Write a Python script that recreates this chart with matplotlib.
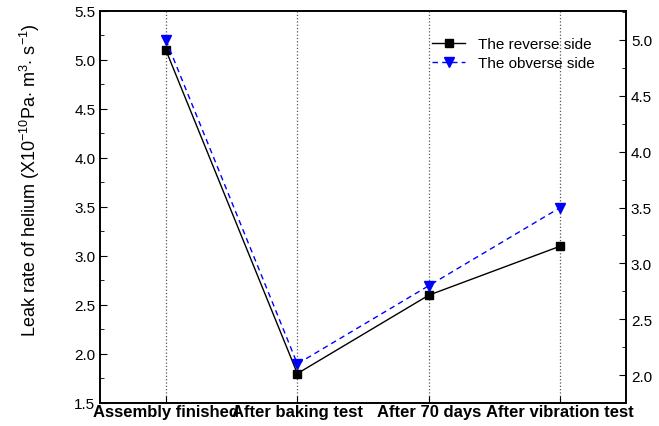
import matplotlib.pyplot as plt
import numpy as np
from matplotlib.ticker import MultipleLocator

plt.rcParams['font.family'] = ['Liberation Sans', 'DejaVu Sans']
plt.rcParams['mathtext.fontset'] = 'custom'
plt.rcParams['mathtext.rm'] = 'Liberation Sans'
plt.rcParams['mathtext.it'] = 'Liberation Sans'

# Stages and measured leak rates
stages = ['Assembly finished', 'After baking test', 'After 70 days', 'After vibration test']
reverse_side = [5.1, 1.8, 2.6, 3.1]
obverse_side = [5.0, 2.1, 2.8, 3.5]

x = np.arange(len(stages))

fig = plt.figure(figsize=(6.59, 4.27), dpi=100)
ax = fig.add_axes([0.152, 0.054, 0.798, 0.918])
ax2 = ax.twinx()

# vertical dotted guides at each stage
for xi in x:
    ax.axvline(xi, color='#555555', linestyle=':', linewidth=0.9, zorder=0)

l1, = ax.plot(x, reverse_side, color='black', linewidth=1.0, marker='s',
              markersize=6, label='The reverse side', zorder=3)
l2, = ax2.plot(x, obverse_side, color='blue', linewidth=1.0, linestyle='--',
               dashes=(4, 3), marker='v', markersize=7, label='The obverse side', zorder=3)

ax.set_xlim(-0.5, 3.5)
ax.set_ylim(1.5, 5.5)
ax2.set_ylim(1.75, 5.26)

ax.set_xticks(x)
ax.set_xticklabels(stages, fontsize=12, fontweight='bold')
ax.tick_params(axis='x', direction='in', length=5, pad=1)

ax.yaxis.set_major_locator(MultipleLocator(0.5))
ax.yaxis.set_minor_locator(MultipleLocator(0.25))
ax.tick_params(axis='y', which='major', direction='in', length=5, labelsize=11)
ax.tick_params(axis='y', which='minor', direction='in', length=3)

ax2.yaxis.set_minor_locator(MultipleLocator(0.25))
ax2.set_yticks(np.arange(2.0, 5.01, 0.5))
ax2.tick_params(axis='y', which='major', direction='in', length=5, labelsize=11)
ax2.tick_params(axis='y', which='minor', direction='in', length=3)

for a in (ax, ax2):
    for s in a.spines.values():
        s.set_linewidth(1.2)

ax.set_ylabel('Leak rate of helium (X10$^{\\mathrm{-10}}$Pa$\\cdot$ m$^{3}$$\\cdot$ s$^{\\mathrm{-1}}$)',
              fontsize=13)
ax.yaxis.set_label_coords(-0.11, 0.57)

ax.legend(handles=[l1, l2], loc='upper right', bbox_to_anchor=(0.96, 0.96),
          frameon=False, fontsize=11, handlelength=2.2, borderaxespad=0.3, labelspacing=0.3)

plt.savefig('out.png', dpi=100)
